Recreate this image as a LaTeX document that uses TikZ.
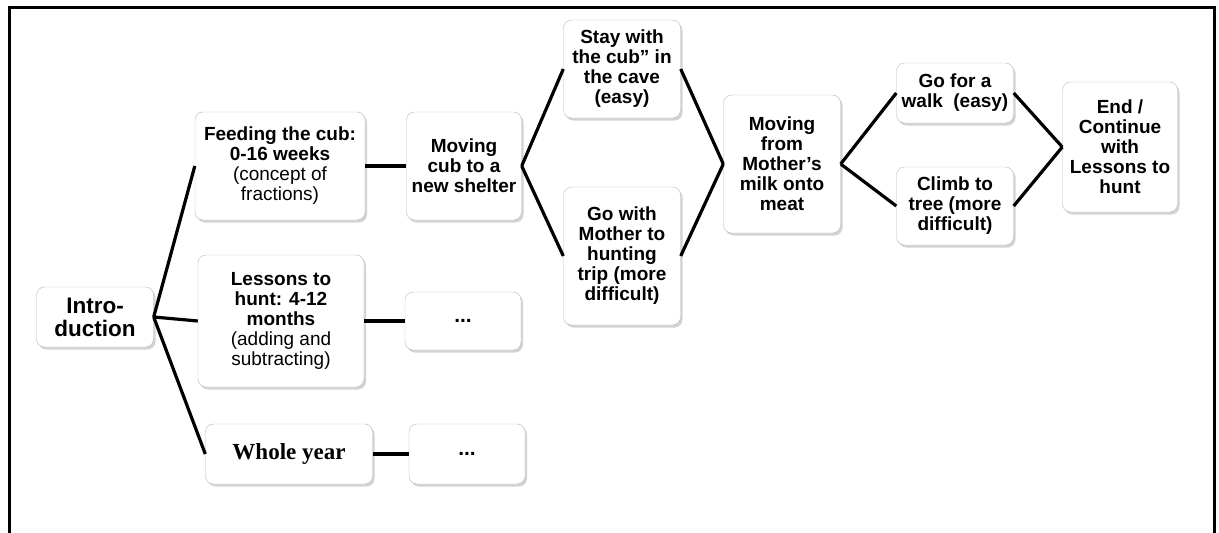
\documentclass[tikz,border=0pt]{standalone}
\usepackage{fontspec}
\setmainfont{Liberation Sans}
\newfontfamily\timesfont{Liberation Serif}
\usetikzlibrary{shadows}
\newcommand{\boxfont}{\fontsize{19}{20}\selectfont\bfseries}
\tikzset{x=1pt, y=-1pt,
box/.style={ % Sets the properties for each step box
draw=gray!55,
fill=white,
rounded corners=8pt,
align=center,
inner sep=2pt,
font=\boxfont,
drop shadow={shadow xshift=2pt, shadow yshift=-2.5pt, opacity=0.35, fill=gray}},
link/.style={ % Sets the properties for each connector
draw,
line width=3.2pt}}

\begin{document}
\begin{tikzpicture}
	\useasboundingbox (0,0) rectangle (1219,533);
	\draw[line width=3pt] (9,533) -- (9,7) -- (1214,7) -- (1214,533); % frame
	\node[box, minimum width=117, minimum height=60, font=\fontsize{22.5}{23}\selectfont\bfseries] (intro) at (95,317) {Intro-\\duction};
	\node[box, minimum width=170, minimum height=108] (feed) at (280,166) {Feeding the cub:\\0-16 weeks\\\mdseries (concept of\\\mdseries fractions)};
	\node[box, minimum width=166, minimum height=132] (lessons) at (281,321) {Lessons to\\hunt: 4-12\\months\\\mdseries (adding and\\\mdseries subtracting)};
	\node[box, minimum width=167, minimum height=60, font=\timesfont\fontsize{23}{24}\selectfont\bfseries] (whole) at (289,454) {Whole year};
	\node[box, minimum width=115, minimum height=108] (movecub) at (464,166) {Moving\\cub to a\\new shelter};
	\node[box, minimum width=116, minimum height=58, font=\fontsize{21}{20}\selectfont\bfseries] (dotsa) at (463,321) {...};
	\node[box, minimum width=116, minimum height=60, font=\fontsize{21}{20}\selectfont\bfseries] (dotsb) at (467,454) {...};
	\node[box, minimum width=117, minimum height=98] (stay) at (622,69) {Stay with\\the cub'' in\\the cave\\(easy)};
	\node[box, minimum width=117, minimum height=138] (gowith) at (622,256) {Go with\\Mother to\\hunting\\trip (more\\difficult)};
	\node[box, minimum width=117, minimum height=138] (meat) at (782,164) {Moving\\from\\Mother’s\\milk onto\\meat};
	\node[box, minimum width=117, minimum height=60] (walk) at (955,93) {Go for a\\walk~ (easy)};
	\node[box, minimum width=117, minimum height=78] (climb) at (955,206) {Climb to\\tree (more\\difficult)};
	\node[box, minimum width=115, minimum height=130] (finish) at (1120,147) {End /\\Continue\\with\\Lessons to\\hunt};
	\draw[link] (intro.east) -- (feed.west);
	\draw[link] (intro.east) -- (lessons.west);
	\draw[link] (intro.east) -- (whole.west);
	\draw[link] (feed.east) -- (movecub.west);
	\draw[link] (lessons.east) -- (dotsa.west);
	\draw[link] (whole.east) -- (dotsb.west);
	\draw[link] (movecub.east) -- (stay.west);
	\draw[link] (movecub.east) -- (gowith.west);
	\draw[link] (stay.east) -- (meat.west);
	\draw[link] (gowith.east) -- (meat.west);
	\draw[link] (meat.east) -- (walk.west);
	\draw[link] (meat.east) -- (climb.west);
	\draw[link] (walk.east) -- (finish.west);
	\draw[link] (climb.east) -- (finish.west);
\end{tikzpicture}
\end{document}
